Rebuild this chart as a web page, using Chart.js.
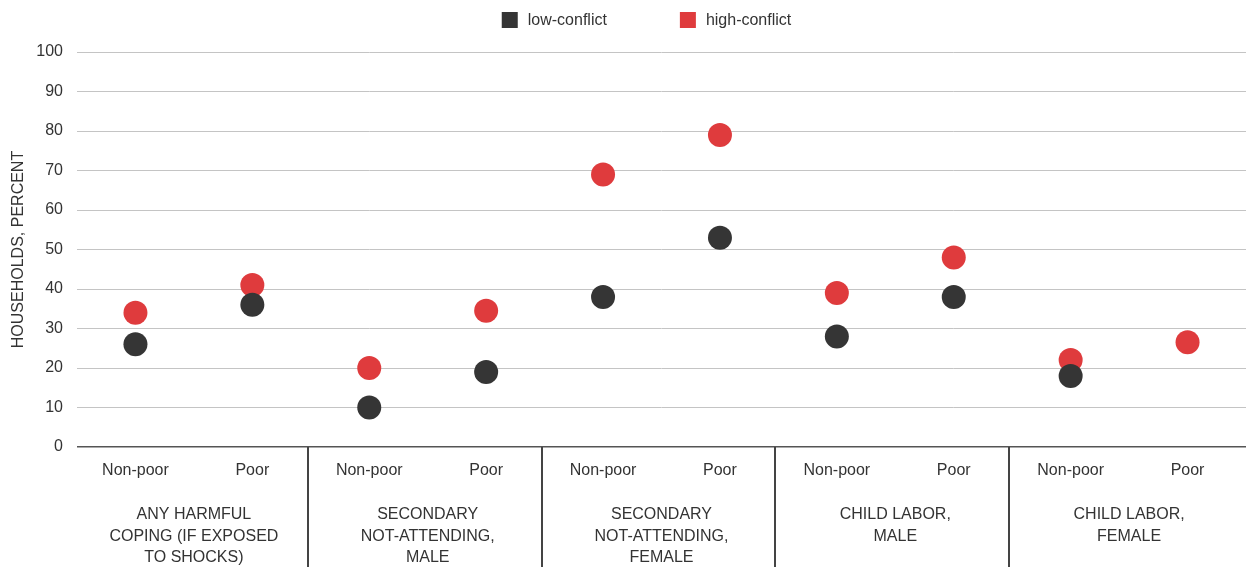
<!DOCTYPE html>
<html lang="en">
<head>
    <meta charset="UTF-8">
    <script src="https://cdn.jsdelivr.net/npm/chart.js@4.4.1/dist/chart.umd.min.js"></script>
    <title>Households, percent</title>
    <style>
        html, body { margin: 0; padding: 0; background: #fff; }
        #wrap { width: 1246px; height: 567px; }
    </style>
</head>
<body>
<div id="wrap"><canvas id="chart"></canvas></div>
<script>
    const categories = ['Non-poor', 'Poor', 'Non-poor', 'Poor', 'Non-poor', 'Poor', 'Non-poor', 'Poor', 'Non-poor', 'Poor'];
    const groupLabels = [
        ['ANY HARMFUL', 'COPING (IF EXPOSED', 'TO SHOCKS)'],
        ['SECONDARY', 'NOT-ATTENDING,', 'MALE'],
        ['SECONDARY', 'NOT-ATTENDING,', 'FEMALE'],
        ['CHILD LABOR,', 'MALE'],
        ['CHILD LABOR,', 'FEMALE']
    ];
    const lowConflict = [26, 36, 10, 19, 38, 53, 28, 38, 18, null];
    const highConflict = [34, 41, 20, 34.5, 69, 79, 39, 48, 22, 26.5];

    const FONT = "'Liberation Sans', Arial, sans-serif";
    const TEXT = '#333333';
    const DARK = '#353535';
    const RED = '#df3b3d';

    // legend + group labels + dividers under the x axis
    const extras = {
        id: 'extras',
        afterDraw(chart) {
            const ctx = chart.ctx;
            const area = chart.chartArea;
            const x = chart.scales.x;
            ctx.save();
            ctx.font = '16px ' + FONT;
            ctx.textBaseline = 'middle';

            // legend
            const items = chart.data.datasets.map(d => ({ label: d.label, color: d.backgroundColor, w: 26 + ctx.measureText(d.label).width }));
            const gap = 73;
            const total = items.reduce((s, it) => s + it.w, 0) + gap * (items.length - 1);
            let lx = (area.left + area.right) / 2 - total / 2 - 15;
            items.forEach(it => {
                ctx.fillStyle = it.color;
                ctx.fillRect(lx, 12, 16, 16);
                ctx.fillStyle = TEXT;
                ctx.textAlign = 'left';
                ctx.fillText(it.label, lx + 26, 21);
                lx += it.w + gap;
            });

            // group dividers
            ctx.strokeStyle = '#444';
            ctx.lineWidth = 2;
            for (let g = 1; g < groupLabels.length; g++) {
                const px = Math.round((x.getPixelForValue(2 * g - 1) + x.getPixelForValue(2 * g)) / 2) - 3;
                ctx.beginPath();
                ctx.moveTo(px, area.bottom);
                ctx.lineTo(px, chart.height);
                ctx.stroke();
            }

            // group labels
            ctx.fillStyle = TEXT;
            ctx.textAlign = 'center';
            groupLabels.forEach((lines, g) => {
                const cx = (x.getPixelForValue(2 * g) + x.getPixelForValue(2 * g + 1)) / 2;
                lines.forEach((t, i) => ctx.fillText(t, cx, area.bottom + 68 + i * 21.5));
            });
            ctx.restore();
        }
    };

    const chart = new Chart(document.getElementById('chart'), {
        type: 'line',
        data: {
            labels: categories,
            datasets: [
                { label: 'low-conflict', data: lowConflict, backgroundColor: DARK, borderColor: DARK, showLine: false, pointRadius: 12, pointHoverRadius: 12, pointBorderWidth: 0 },
                { label: 'high-conflict', data: highConflict, backgroundColor: RED, borderColor: RED, showLine: false, pointRadius: 12, pointHoverRadius: 12, pointBorderWidth: 0 }
            ]
        },
        options: {
            responsive: true,
            maintainAspectRatio: false,
            animation: false,
            layout: { autoPadding: false, padding: { top: 52, right: 0, left: 0, bottom: 0 } },
            plugins: {
                legend: { display: false },
                tooltip: { enabled: false }
            },
            scales: {
                x: {
                    offset: true,
                    grid: { display: false },
                    border: { display: false },
                    ticks: { color: TEXT, font: { family: FONT, size: 16 }, padding: 6, maxRotation: 0, autoSkip: false },
                    afterFit: s => { s.height = 120; }
                },
                y: {
                    min: 0,
                    max: 100,
                    border: { display: false },
                    grid: {
                        drawTicks: false,
                        color: c => c.tick.value === 0 ? '#555' : '#c4c4c4',
                        lineWidth: c => c.tick.value === 0 ? 1.5 : 1
                    },
                    ticks: { stepSize: 10, color: TEXT, font: { family: FONT, size: 16 }, padding: 14 },
                    title: { display: true, text: 'HOUSEHOLDS, PERCENT', color: TEXT, font: { family: FONT, size: 16 }, padding: { top: 9, bottom: 4 } },
                    afterFit: s => { s.width = 77; }
                }
            }
        },
        plugins: [extras]
    });
</script>
</body>
</html>
